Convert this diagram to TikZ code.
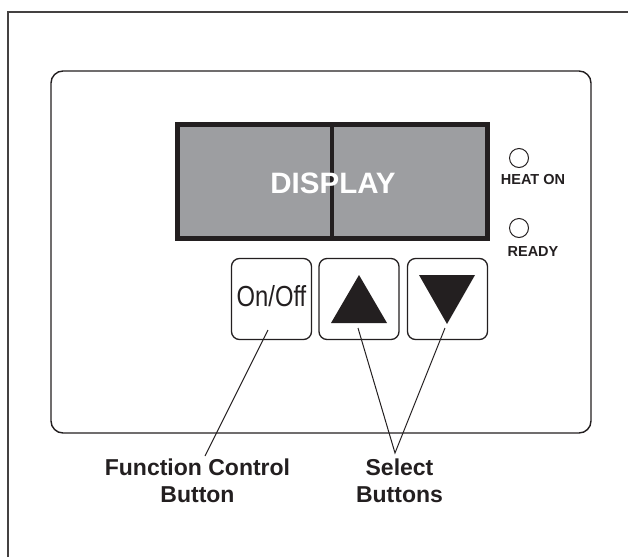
\documentclass[tikz,border=0pt]{standalone}
\usepackage{fontspec}
\setmainfont{Liberation Sans}
\definecolor{ink}{HTML}{231F20}
\definecolor{lcd}{HTML}{9D9EA1}
\begin{document}
\begin{tikzpicture}[x=1pt,y=-1pt,
  frame/.style={draw=ink!85, line width=1.5pt},
  panel/.style={draw=ink, line width=1.4pt, rounded corners=12pt, minimum width=540pt, minimum height=362pt, inner sep=0pt},
  screen/.style={draw=ink, fill=lcd, line width=5pt, minimum width=310pt, minimum height=114pt, inner sep=0pt},
  key/.style={draw=ink, line width=1.3pt, rounded corners=8pt, minimum width=80pt, minimum height=81pt, inner sep=0pt},
  led/.style={draw=ink, line width=1pt, circle, minimum size=19pt, inner sep=0pt},
  ledlabel/.style={font=\fontsize{14.5}{16}\selectfont\bfseries, text=ink, inner sep=0pt},
  caption/.style={font=\fontsize{23}{27}\selectfont\bfseries, text=ink, align=center, inner sep=0pt, anchor=north},
  leader/.style={draw=ink, line width=1pt}]
\useasboundingbox (0,0) rectangle (628,557);
% open outer frame
\draw[frame] (8,557) -- (8,12) -- (628,12);
% panel
\node[panel] (panel) at (321,252) {};
% display
\node[screen] (display) at (332.5,181.5) {};
\draw[draw=ink, line width=4pt] (332,124) -- (332,239);
\node[text=white, font=\fontsize{29.5}{34}\selectfont\bfseries, inner sep=0pt] (disptext) at (333,183) {DISPLAY};
% LEDs
\node[led] (heat) at (519,158) {};
\node[ledlabel] (heatlbl) at (533,180) {HEAT ON};
\node[led] (ready) at (519,228) {};
\node[ledlabel] (readylbl) at (533,252) {READY};
% buttons
\node[key] (onoff) at (271.5,299) {};
\node[text=ink, font=\fontsize{29}{32}\selectfont, inner sep=0pt, xscale=0.82] (onofftext) at (271.5,296) {On/Off};
\node[key] (up) at (359,299) {};
\node[key] (down) at (447.5,299) {};
\fill[ink] (331,323) -- (387,323) -- (359,275) -- cycle;
\fill[ink] (419,275) -- (475,275) -- (447,324) -- cycle;
% captions
\node[caption] (fc) at (197.5,459) {Function Control\\Button};
\node[caption] (sel) at (399.5,459) {Select\\Buttons};
% leaders
\coordinate (onoffA) at (268,330);
\coordinate (fcTip) at (205,456);
\coordinate (upA) at (358,328);
\coordinate (downA) at (445,328);
\coordinate (selTip) at (395,453);
\draw[leader] (onoffA) -- (fcTip);
\draw[leader] (upA) -- (selTip) -- (downA);
\end{tikzpicture}
\end{document}
